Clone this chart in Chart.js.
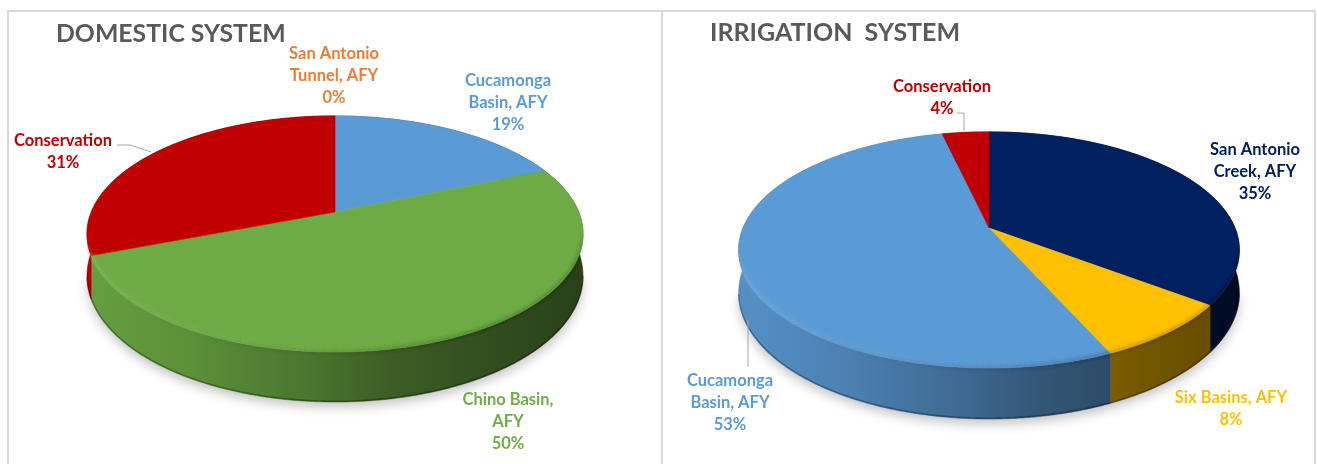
<!DOCTYPE html>
<html>
<head>
<meta charset="utf-8">
<style>
html,body{margin:0;padding:0;background:#fff;width:1317px;height:464px;overflow:hidden}
.rule{position:absolute;background:#d9d9d9}
canvas{position:absolute;top:0}
</style>
<script src="https://cdn.jsdelivr.net/npm/chart.js@4/dist/chart.umd.js"></script>
</head>
<body>
<div class="rule" style="left:7px;top:10px;width:1309px;height:2px"></div>
<div class="rule" style="left:7px;top:10px;width:2px;height:454px"></div>
<div class="rule" style="left:661px;top:10px;width:2px;height:454px"></div>
<div class="rule" style="left:1314px;top:10px;width:2px;height:454px"></div>
<canvas id="domestic" width="661" height="464" style="left:0"></canvas>
<canvas id="irrigation" width="655" height="464" style="left:662px"></canvas>
<script>
const domesticCategories = ["Cucamonga Basin, AFY", "Chino Basin, AFY", "San Antonio Tunnel, AFY", "Conservation"];
const domesticValues = [18.7, 50.49, 0, 30.81];
const domesticColors = ["#5B9BD5", "#6DAC44", "#ED7D31", "#C00000"];
const irrigationCategories = ["San Antonio Creek, AFY", "Six Basins, AFY", "Cucamonga Basin, AFY", "Conservation"];
const irrigationValues = [35.3, 8, 53.1, 3.6];
const irrigationColors = ["#002060", "#FFC000", "#5B9BD5", "#C00000"];

const FONT = 'Lato, "Open Sans", sans-serif';
function rgb(hex){const n=parseInt(hex.slice(1),16);return [n>>16,(n>>8)&255,n&255];}
function shade(hex,f){const c=rgb(hex).map(v=>Math.min(255,Math.round(v*f)));return `rgb(${c[0]},${c[1]},${c[2]})`;}
function mix(hex,w,a){const c=rgb(hex).map(v=>Math.round(v+(255-v)*w));return `rgba(${c[0]},${c[1]},${c[2]},${a})`;}

function geo(chart){return chart.options.plugins.pie3d;}
function project(g,a){
  const u=Math.cos(a),v=Math.sin(a),den=1+g.persp*v;
  return {x:g.cx+g.r*u/den,y:g.cy+g.squash*v/den,v};
}
function depth(g,v){return g.depth+g.depthFront*v;}
function arcAngles(s,e){const out=[];const n=Math.max(2,Math.ceil((e-s)/0.008));for(let i=0;i<=n;i++)out.push(s+(e-s)*i/n);return out;}
function silhouette(ctx,g){
  ctx.beginPath();
  arcAngles(Math.PI-.19,Math.PI*2+.19).forEach((a,i)=>{const p=project(g,a);i?ctx.lineTo(p.x,p.y):ctx.moveTo(p.x,p.y);});
  arcAngles(.19,Math.PI-.19).forEach(a=>{const p=project(g,a);ctx.lineTo(p.x,p.y+depth(g,p.v));});
  ctx.closePath();
}

class Arc3D extends Chart.ArcElement{
  static id='arc3d';
  static defaults=Chart.ArcElement.defaults;
  drawWall(ctx,g){
    const {startAngle:s,endAngle:e}=this;if(e-s<1e-4)return;
    const as=arcAngles(s,e),base=this.options.backgroundColor;
    const grad=ctx.createLinearGradient(g.cx-g.r,0,g.cx+g.r,0);
    [[0,.92],[.2,.84],[.45,.68],[.6,.56],[.8,.46],[1,.38]].forEach(([t,f])=>grad.addColorStop(t,shade(base,f)));
    ctx.beginPath();
    as.forEach((a,i)=>{const p=project(g,a);i?ctx.lineTo(p.x,p.y):ctx.moveTo(p.x,p.y);});
    as.slice().reverse().forEach(a=>{const p=project(g,a);ctx.lineTo(p.x,p.y+depth(g,p.v));});
    ctx.closePath();ctx.fillStyle=grad;ctx.fill();ctx.strokeStyle=grad;ctx.lineWidth=.6;ctx.stroke();
    as.forEach((a,i)=>{if(!i)return;const p=project(g,a),q=project(g,as[i-1]);if(p.v<.2)return;
      ctx.beginPath();ctx.moveTo(q.x,q.y+depth(g,q.v)-.8);ctx.lineTo(p.x,p.y+depth(g,p.v)-.8);
      ctx.strokeStyle='rgba(0,0,0,.3)';ctx.lineWidth=1.6;ctx.stroke();});
  }
  draw(ctx){
    const g=geo(this.$chart),{startAngle:s,endAngle:e}=this;if(e-s<1e-4)return;
    const base=this.options.backgroundColor,as=arcAngles(s,e);
    ctx.save();
    ctx.beginPath();ctx.moveTo(g.cx,g.cy);
    as.forEach(a=>{const p=project(g,a);ctx.lineTo(p.x,p.y);});
    ctx.closePath();ctx.fillStyle=base;ctx.fill();ctx.strokeStyle=base;ctx.lineWidth=.6;ctx.stroke();
    ctx.restore();
  }
  drawBevel(ctx,g){
    const {startAngle:s,endAngle:e}=this;if(e-s<1e-4)return;
    const base=this.options.backgroundColor,as=arcAngles(s,e);
    ctx.save();
    silhouette(ctx,g);ctx.clip();
    ctx.lineCap='butt';
    as.forEach((a,i)=>{
      if(!i)return;
      const p=project(g,a),q=project(g,as[i-1]);
      if(p.v<.12)return;
      const ramp=Math.min(1,(p.v-.12)*3.5);
      const t=(p.x-(g.cx-g.r))/(2*g.r),sm=ramp*Math.max(0,1-t*1.2);
      [[12,-2,.05],[8,-2,.08],[5,-2,.12],[3,-2,.16]].forEach(([w,off,al])=>{
        ctx.beginPath();ctx.moveTo(q.x,q.y+off);ctx.lineTo(p.x,p.y+off);
        ctx.strokeStyle=mix(base,.3,al*sm);ctx.lineWidth=w;ctx.stroke();
      });
      const dk=ramp*Math.min(1,t*1.2);
      [[9,.05],[5,.08]].forEach(([w,al])=>{
        ctx.beginPath();ctx.moveTo(q.x,q.y);ctx.lineTo(p.x,p.y);
        ctx.strokeStyle=`rgba(0,0,0,${al*dk})`;ctx.lineWidth=w;ctx.stroke();
      });
    });
    ctx.restore();
  }
}
class Pie3D extends Chart.PieController{
  static id='pie3d';
  static defaults={...Chart.PieController.defaults,dataElementType:'arc3d'};
  static overrides=Chart.PieController.overrides;
  draw(){
    const chart=this.chart,ctx=chart.ctx,g=geo(chart),els=this.getMeta().data;
    els.forEach(el=>{el.$chart=chart;});
    ctx.save();
    ctx.shadowColor='rgba(60,55,70,.3)';ctx.shadowBlur=11;ctx.shadowOffsetY=5;ctx.shadowOffsetX=0;
    ctx.beginPath();
    arcAngles(.19,Math.PI-.19).forEach((a,i)=>{const p=project(g,a),y=p.y+depth(g,p.v);i?ctx.lineTo(p.x,y):ctx.moveTo(p.x,y);});
    ctx.closePath();ctx.fillStyle='#fff';ctx.fill();
    ctx.restore();
    ctx.save();els.forEach(el=>el.drawWall(ctx,g));ctx.restore();
    els.forEach(el=>el.draw(ctx));
    els.forEach(el=>el.drawBevel(ctx,g));
  }
}
const annotate={
  id:'annotate',
  afterDraw(chart,_,o){
    const ctx=chart.ctx,ds=chart.data.datasets[0];
    ctx.save();
    ctx.fillStyle='#595959';ctx.textAlign='left';ctx.textBaseline='middle';
    ctx.font=`bold ${o.titleSize}px ${FONT}`;
    ctx.fillText(o.title,o.titleX,o.titleY);
    ctx.strokeStyle='#a6a6a6';ctx.lineWidth=1;
    o.leaders.forEach(l=>{ctx.beginPath();l.forEach((p,i)=>i?ctx.lineTo(p[0],p[1]):ctx.moveTo(p[0],p[1]));ctx.stroke();});
    ctx.textAlign='center';ctx.font=`bold 16.5px ${FONT}`;
    o.spots.forEach(s=>{
      ctx.fillStyle=s.color;
      const lines=[...s.lines,Math.round(ds.data[s.index])+'%'];
      lines.forEach((t,i)=>ctx.fillText(t,s.x,s.y+i*22));
    });
    ctx.restore();
  }
};
Chart.register(Arc3D,Pie3D);
function build(id,cats,vals,cols,pie,note){
  return new Chart(document.getElementById(id),{
    type:'pie3d',
    data:{labels:cats,datasets:[{data:vals,backgroundColor:cols,borderWidth:0}]},
    options:{responsive:false,animation:false,
      plugins:{legend:{display:false},tooltip:{enabled:false},title:{display:false},pie3d:pie,annotate:note}},
    plugins:[annotate]
  });
}
build('domestic',domesticCategories,domesticValues,domesticColors,
  {cx:335,cy:212,r:243.7,squash:114,persp:-.186,depth:40,depthFront:10},
  {title:'DOMESTIC SYSTEM',titleX:56,titleY:34,titleSize:24.8,
   leaders:[[[117,145],[130,145],[151,152]]],
   spots:[
    {index:2,color:'#ED7D31',x:334,y:54,lines:['San Antonio','Tunnel, AFY']},
    {index:0,color:'#5B9BD5',x:508,y:81,lines:['Cucamonga','Basin, AFY']},
    {index:3,color:'#C00000',x:63,y:141,lines:['Conservation']},
    {index:1,color:'#70AD47',x:508,y:400,lines:['Chino Basin,','AFY']}
   ]});
build('irrigation',irrigationCategories,irrigationValues,irrigationColors,
  {cx:327,cy:228,r:246,squash:114,persp:-.186,depth:41,depthFront:10},
  {title:'IRRIGATION  SYSTEM',titleX:48,titleY:33,titleSize:25,
   leaders:[[[295,113],[302,113],[302,131]],[[86,320],[86,367]]],
   spots:[
    {index:0,color:'#002060',x:593,y:150,lines:['San Antonio','Creek, AFY']},
    {index:1,color:'#FFC000',x:569,y:398,lines:['Six Basins, AFY']},
    {index:2,color:'#5B9BD5',x:68,y:381,lines:['Cucamonga','Basin, AFY']},
    {index:3,color:'#C00000',x:280,y:87,lines:['Conservation']}
   ]});
</script>
</body>
</html>
